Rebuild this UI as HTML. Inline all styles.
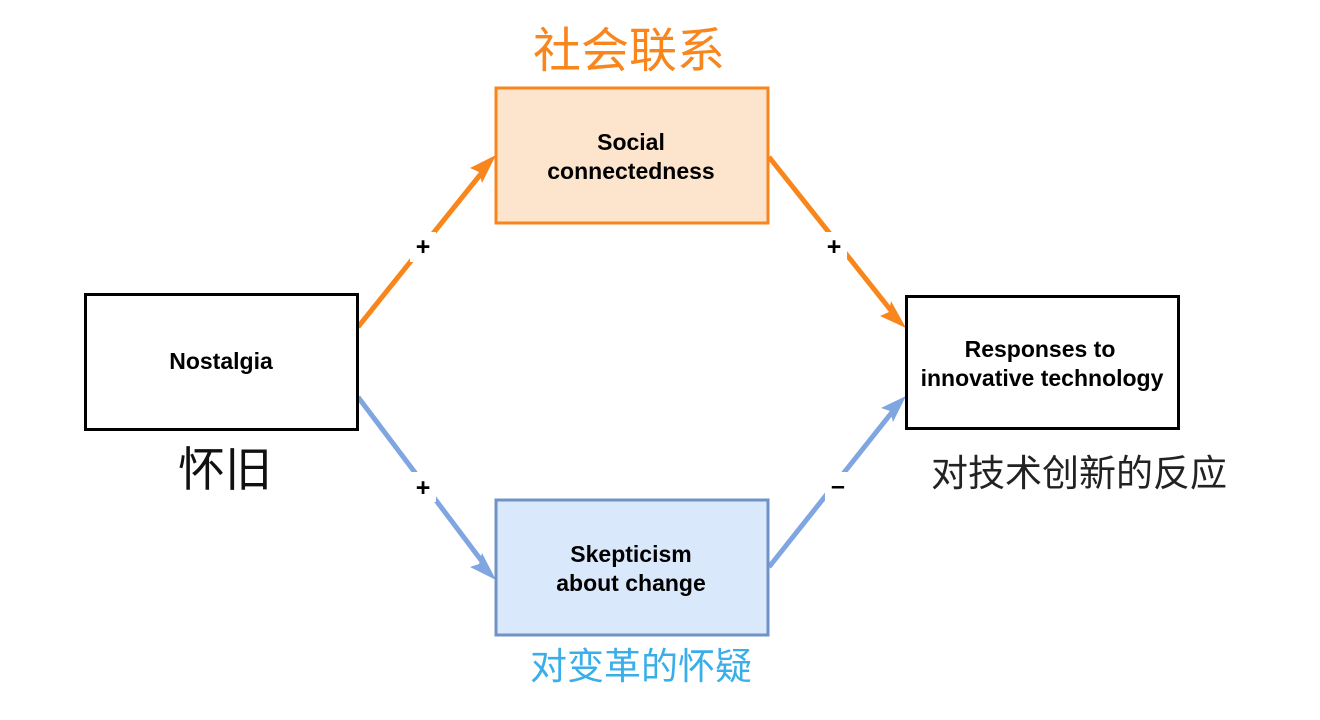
<!DOCTYPE html>
<html><head><meta charset="utf-8"><style>
html,body{margin:0;padding:0;background:#fff;}
svg{display:block}
</style></head><body>
<svg width="1320" height="720" viewBox="0 0 1320 720" xmlns="http://www.w3.org/2000/svg">
<g stroke-width="5" fill="none">
<line x1="358" y1="327" x2="484" y2="170" stroke="#f8861c"/>
<line x1="769" y1="157" x2="893" y2="313" stroke="#f8861c"/>
<line x1="358" y1="397" x2="484" y2="564" stroke="#7fa6e0"/>
<line x1="769" y1="567" x2="893" y2="411" stroke="#7fa6e0"/>
</g>
<polygon points="496,155 470,168 479,172 482,183" fill="#f8861c"/>
<polygon points="906,328 880,316 889,312 891,301" fill="#f8861c"/>
<polygon points="496,580 482,553 479,564 470,567" fill="#7fa6e0"/>
<polygon points="906,396 881,408 890,411 893,422" fill="#7fa6e0"/>
<rect x="410" y="232" width="26" height="30" fill="#fff"/>
<rect x="821" y="232" width="26" height="30" fill="#fff"/>
<rect x="410" y="472" width="26" height="30" fill="#fff"/>
<rect x="825" y="472" width="26" height="30" fill="#fff"/>
<g font-family="Liberation Sans, sans-serif" font-weight="bold" font-size="25" text-anchor="middle" fill="#000">
<text x="423" y="255">+</text>
<text x="834" y="255">+</text>
<text x="423" y="496">+</text>
<text x="838" y="494">–</text>
</g>
<rect x="85.5" y="294.5" width="272" height="135" fill="#fff" stroke="#000" stroke-width="3"/>
<rect x="496" y="88" width="272" height="135" fill="#fde4cd" stroke="#f8861c" stroke-width="3"/>
<rect x="496" y="500" width="272" height="135" fill="#dae8fb" stroke="#6f93c7" stroke-width="3"/>
<rect x="906.5" y="296.5" width="272" height="132" fill="#fff" stroke="#000" stroke-width="3"/>
<g font-family="Liberation Sans, sans-serif" font-weight="bold" font-size="23" text-anchor="middle" fill="#000">
<text x="221" y="369">Nostalgia</text>
<text x="631" y="150">Social</text>
<text x="631" y="179">connectedness</text>
<text x="631" y="562">Skepticism</text>
<text x="631" y="591">about change</text>
<text x="1040" y="357">Responses to</text>
<text x="1042" y="386">innovative technology</text>
</g>
<g font-family="Liberation Sans, 'Noto Sans CJK SC', sans-serif" text-anchor="middle">
<text x="629" y="67" font-size="48" fill="#f8861c">社会联系</text>
<text x="225" y="486" font-size="47" fill="#111">怀旧</text>
<text x="1079" y="486" font-size="37" fill="#222">对技术创新的反应</text>
<text x="641" y="679" font-size="37" fill="#3aaee8">对变革的怀疑</text>
</g>
</svg>
</body></html>
